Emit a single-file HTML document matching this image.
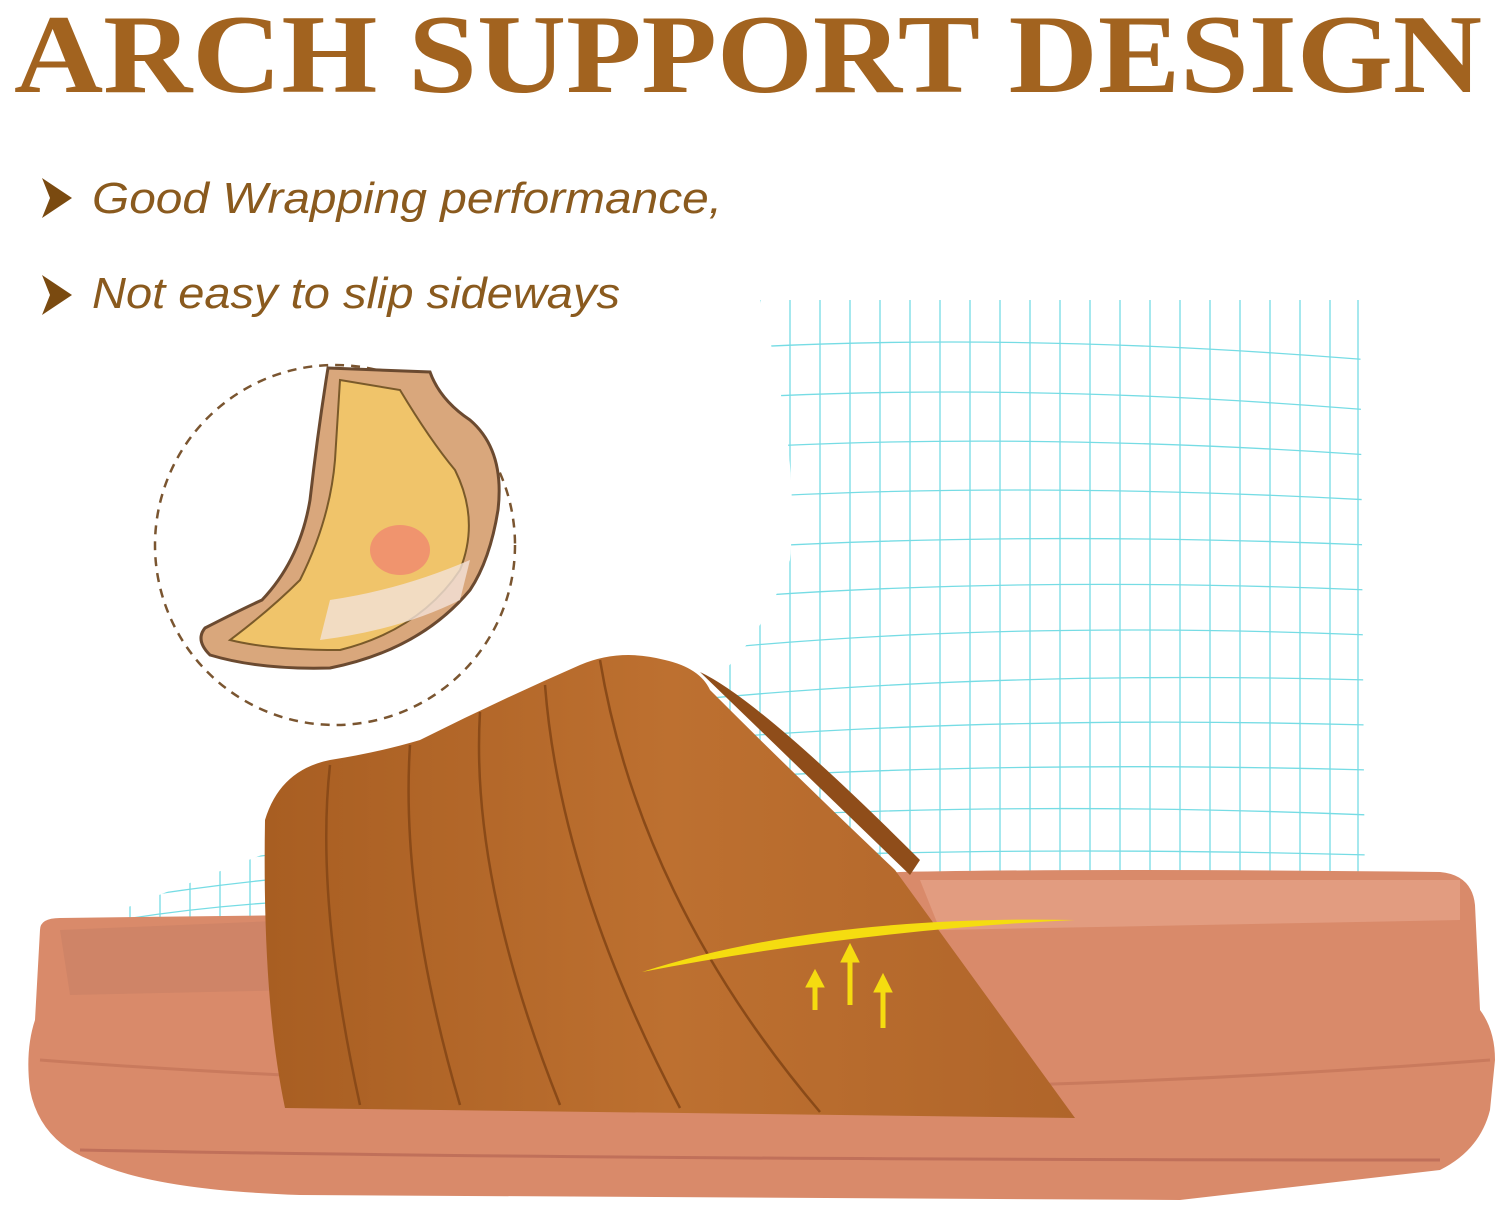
<!DOCTYPE html>
<html><head><meta charset="utf-8"><style>
html,body{margin:0;padding:0;background:#fff;width:1500px;height:1223px;overflow:hidden}
</style></head><body>
<svg width="1500" height="1223" viewBox="0 0 1500 1223" xmlns="http://www.w3.org/2000/svg">
<defs>
<clipPath id="footclip"><path d="M760 300 L1360 300 L1365 900 L700 900 L690 700 Q760 650 790 560 Q800 450 760 300 Z M95 920 L300 840 L320 960 L90 960 Z"/></clipPath>
<linearGradient id="strap" x1="0" x2="1" y1="0" y2="0"><stop offset="0" stop-color="#a85e22"/><stop offset="0.5" stop-color="#bd7030"/><stop offset="1" stop-color="#b0652a"/></linearGradient>
</defs>
<!-- title -->
<text x="14" y="92" font-family="Liberation Serif, serif" font-weight="bold" font-size="112" fill="#a2631f" textLength="1468" lengthAdjust="spacingAndGlyphs">ARCH SUPPORT DESIGN</text>
<!-- bullets -->
<path d="M42 178 L72 198 L42 218 L50 198 Z" fill="#7a4a10"/>
<text x="92" y="213" font-family="Liberation Sans, sans-serif" font-style="italic" font-size="44" fill="#8a5a1e" textLength="630" lengthAdjust="spacingAndGlyphs">Good Wrapping performance,</text>
<path d="M42 275 L72 295 L42 315 L50 295 Z" fill="#7a4a10"/>
<text x="92" y="308" font-family="Liberation Sans, sans-serif" font-style="italic" font-size="44" fill="#8a5a1e" textLength="528" lengthAdjust="spacingAndGlyphs">Not easy to slip sideways</text>
<!-- dashed circle -->
<circle cx="335" cy="545" r="180" fill="none" stroke="#7a5530" stroke-width="2.5" stroke-dasharray="9 7"/>
<!-- foot illustration -->
<path d="M328 368 L430 372 Q440 400 470 420 Q505 450 498 510 Q490 560 470 590 Q420 650 330 668 Q260 670 210 655 Q195 640 205 628 Q240 610 262 600 Q300 560 310 500 Q318 430 328 368 Z" fill="#d9a77c" stroke="#6b4a30" stroke-width="3"/>
<path d="M340 380 L400 390 Q430 440 455 470 Q480 520 460 570 Q420 630 340 650 Q270 650 230 640 Q270 610 300 580 Q330 520 335 460 Z" fill="#f0c46a" stroke="#7a5a2a" stroke-width="2"/>
<ellipse cx="400" cy="550" rx="30" ry="25" fill="#f08070" opacity="0.7"/>
<path d="M330 600 Q400 590 470 560 L460 600 Q400 630 320 640 Z" fill="#f2e2d8" opacity="0.8"/>
<!-- wireframe foot -->
<g clip-path="url(#footclip)" stroke="#5fd6e0" stroke-width="1.3" fill="none" opacity="0.85">
<path d="M760 300 V900"/><path d="M790 300 V900"/><path d="M820 300 V900"/><path d="M850 300 V900"/><path d="M880 300 V900"/><path d="M910 300 V900"/><path d="M940 300 V900"/><path d="M970 300 V900"/><path d="M1000 300 V900"/><path d="M1030 300 V900"/><path d="M1060 300 V900"/><path d="M1090 300 V900"/><path d="M1120 300 V900"/><path d="M1150 300 V900"/><path d="M1180 300 V900"/><path d="M1210 300 V900"/><path d="M1240 300 V900"/><path d="M1270 300 V900"/><path d="M1300 300 V900"/><path d="M1330 300 V900"/><path d="M1358 300 V900"/>
<path d="M700 650 V900"/><path d="M730 620 V900"/>
<path d="M100 880 V960"/><path d="M130 870 V960"/><path d="M160 860 V960"/><path d="M190 850 V960"/><path d="M220 845 V960"/><path d="M250 840 V960"/>
<path d="M700 350 Q1000 330 1370 360"/><path d="M700 400 Q1000 380 1370 410"/><path d="M700 450 Q1000 430 1370 455"/><path d="M700 500 Q1000 480 1370 500"/><path d="M700 550 Q1000 530 1370 545"/><path d="M700 600 Q1000 575 1370 590"/><path d="M700 650 Q1000 620 1370 635"/><path d="M690 700 Q1000 670 1370 680"/><path d="M690 740 Q1000 715 1370 725"/><path d="M690 780 Q1000 760 1370 770"/><path d="M690 820 Q1000 800 1370 815"/><path d="M690 860 Q1000 845 1370 855"/>
<path d="M90 885 Q200 860 320 850"/><path d="M90 905 Q200 885 320 875"/><path d="M90 925 Q200 905 320 900"/><path d="M90 945 Q200 930 320 925"/>
</g>
<!-- sole -->
<path d="M40 930 Q40 918 60 918 L300 915 L900 872 Q1100 868 1440 872 Q1472 875 1475 905 L1480 1010 Q1495 1030 1495 1060 L1490 1110 Q1480 1150 1440 1170 L1180 1200 L300 1195 Q150 1190 90 1160 Q40 1140 30 1090 Q25 1050 35 1020 Z" fill="#d98a6a"/>
<path d="M60 930 L300 920 L300 990 L70 995 Z" fill="#cf8467"/>
<path d="M920 880 L1460 880 L1460 920 L940 930 Z" fill="#e29c80"/>
<path d="M40 1060 Q300 1080 700 1090 Q1100 1090 1490 1060" stroke="#c97a5d" stroke-width="3" fill="none"/>
<path d="M80 1150 Q600 1160 1440 1160" stroke="#c0705a" stroke-width="3" fill="none"/>
<!-- strap -->
<path d="M700 672 Q760 700 920 860 L910 875 Z" fill="#8f4d1a"/>
<path d="M265 820 Q280 770 330 760 Q380 752 420 740 Q500 700 580 665 Q620 648 665 660 Q700 668 710 690 Q800 780 895 870 L1075 1118 L285 1108 Q262 1000 265 820 Z" fill="url(#strap)"/>
<g stroke="#8a4a18" stroke-width="2.5" fill="none">
<path d="M330 765 Q315 900 360 1105"/><path d="M410 745 Q400 900 460 1105"/><path d="M480 712 Q470 880 560 1105"/><path d="M545 685 Q560 880 680 1108"/><path d="M600 660 Q640 900 820 1112"/>
</g>
<!-- yellow arc -->
<path d="M642 972 Q820 915 1075 920 Q860 930 642 972 Z" fill="#f5dc10"/>
<g fill="#f5dc10" stroke="#f5dc10">
<path d="M815 1010 V985" stroke-width="5"/><path d="M806 987 L815 970 L824 987 Z"/>
<path d="M850 1005 V960" stroke-width="5"/><path d="M841 962 L850 944 L859 962 Z"/>
<path d="M883 1028 V990" stroke-width="5"/><path d="M874 992 L883 974 L892 992 Z"/>
</g>
</svg>
</body></html>
